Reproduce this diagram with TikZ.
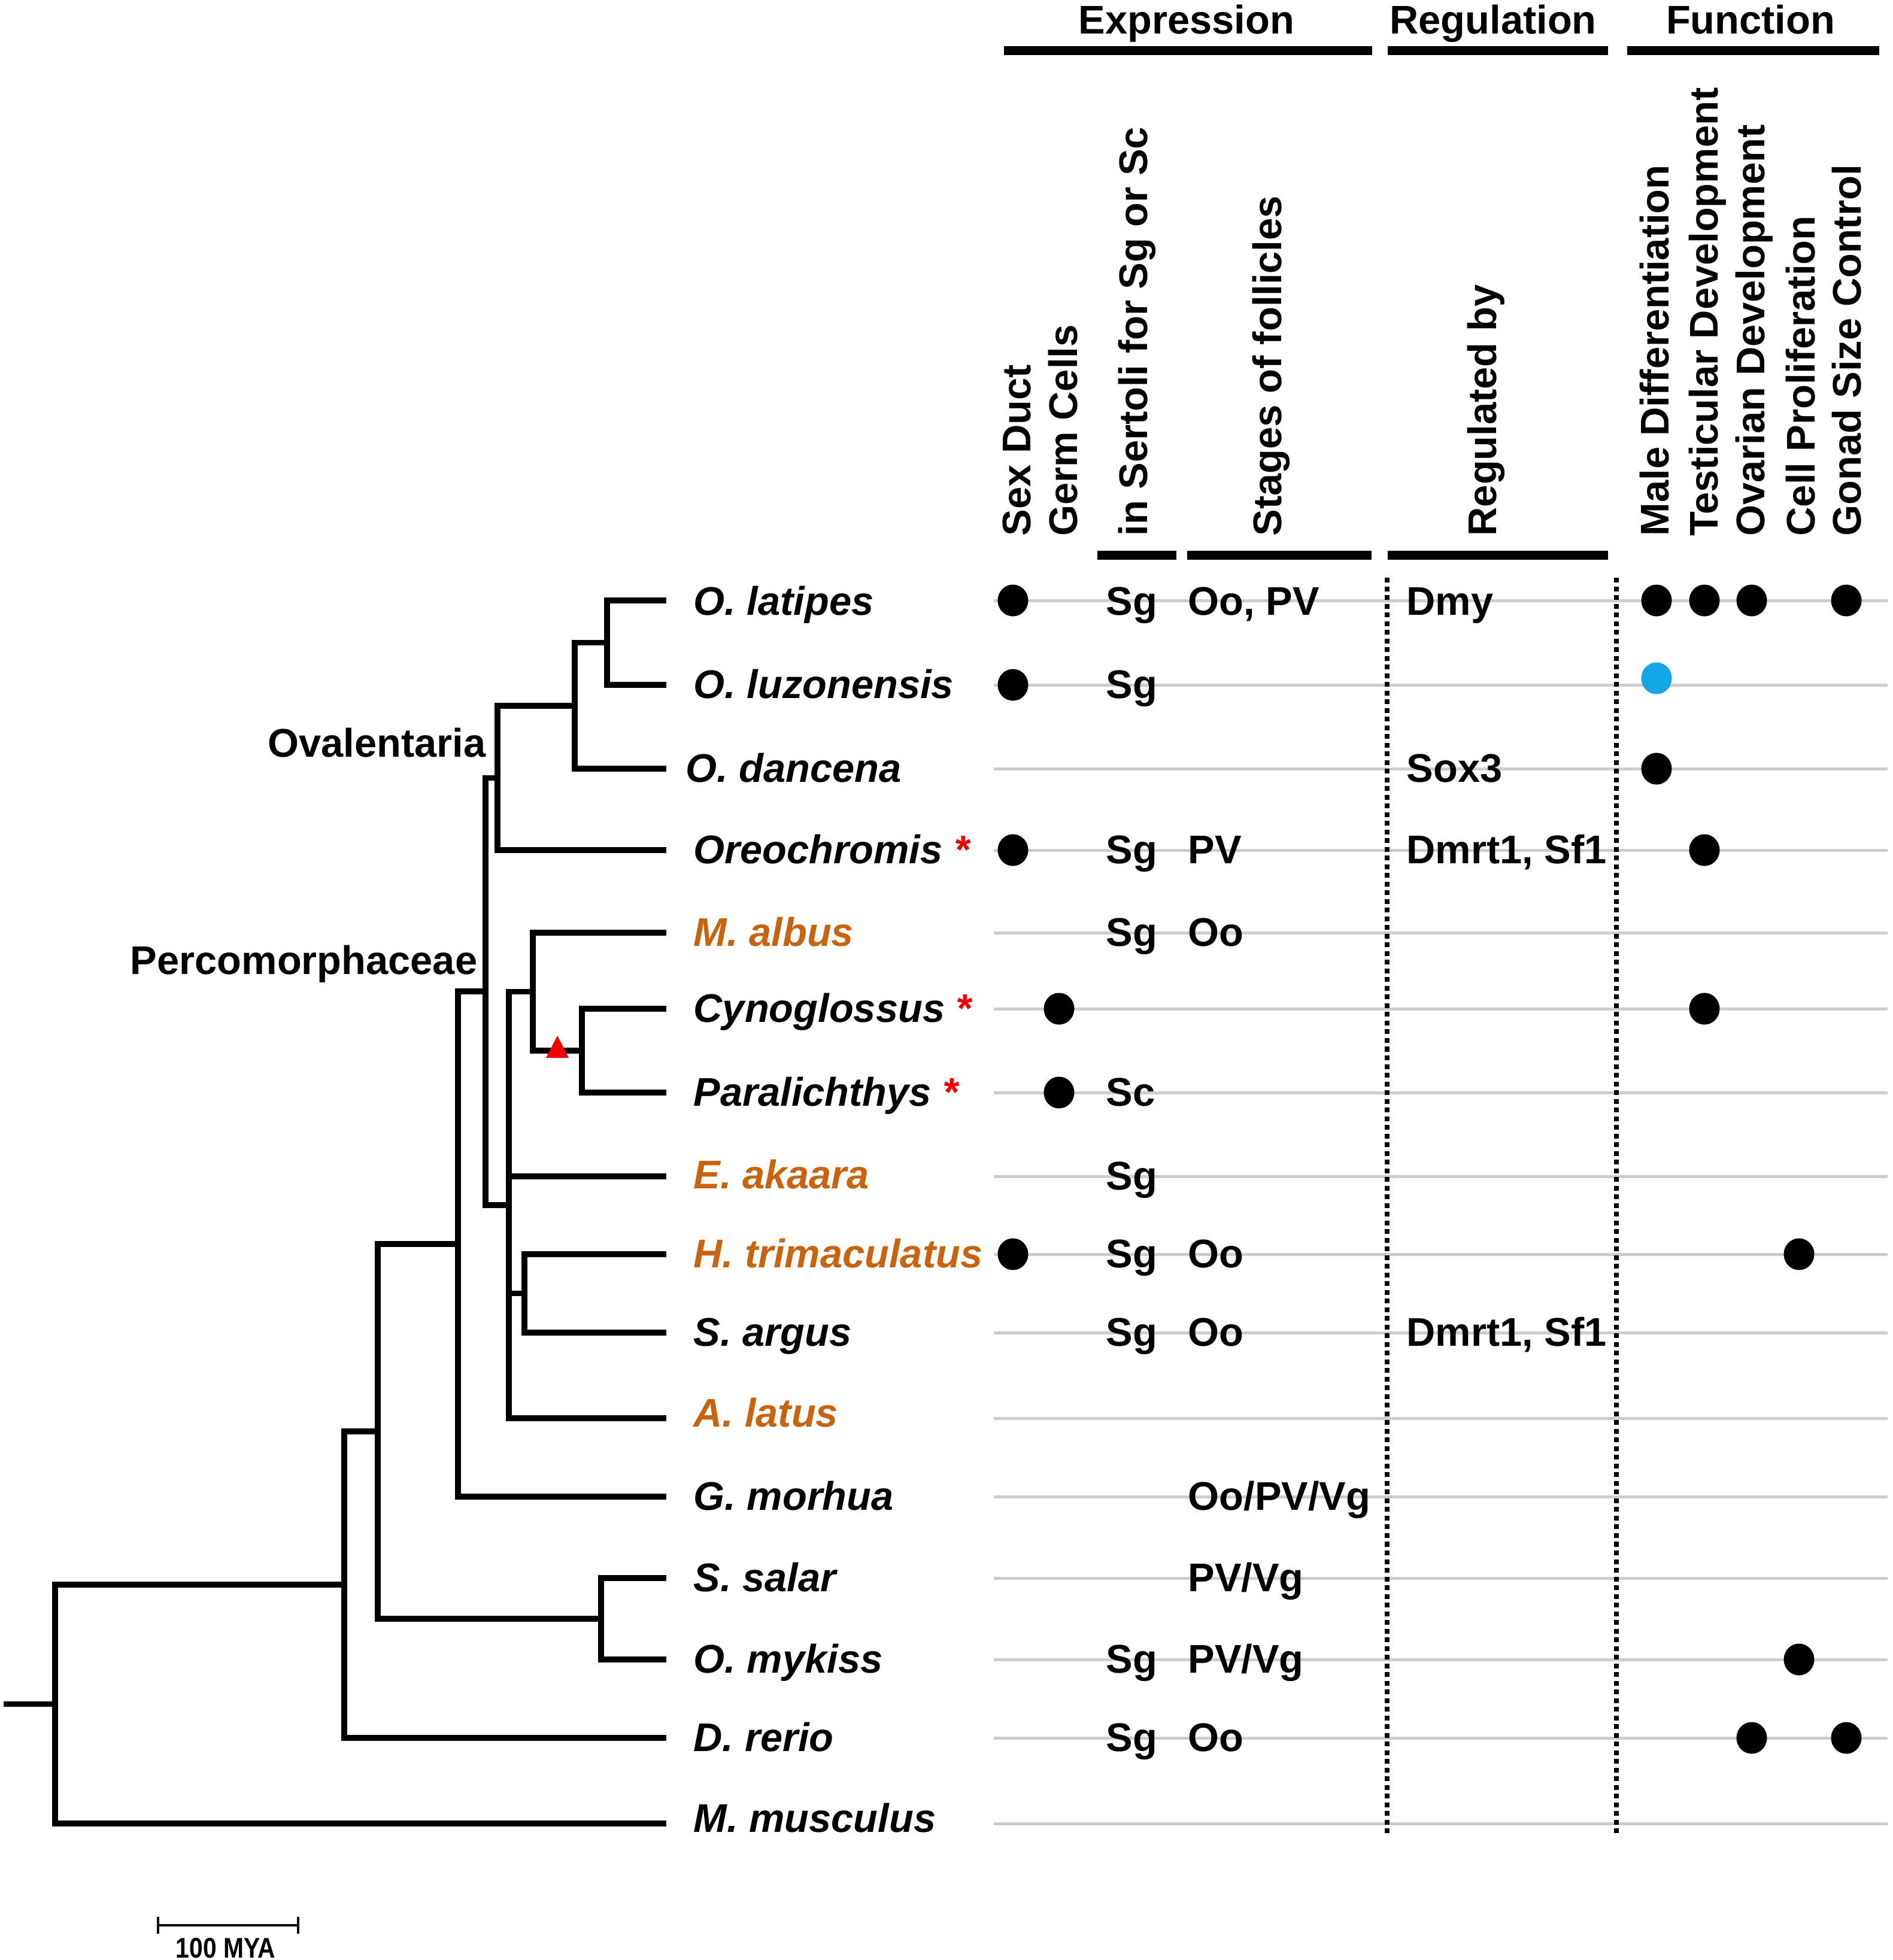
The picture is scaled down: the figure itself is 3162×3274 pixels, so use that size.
\documentclass[tikz,border=0pt]{standalone}
\usepackage{fontspec}
\usetikzlibrary{shapes.geometric}
\setmainfont{Liberation Sans}
\newfontfamily\barfont[FakeStretch=0.86]{Liberation Sans}
\definecolor{spOrange}{RGB}{200,100,15}
\definecolor{dotBlue}{RGB}{20,165,230}
\definecolor{rowGray}{RGB}{205,205,205}
\definecolor{mkRed}{RGB}{240,0,0}
\begin{document}
\begin{tikzpicture}[x=0.01cm,y=-0.01cm,
  branch/.style={line width=0.095cm, line join=miter},
  rowline/.style={line width=0.05cm, rowGray},
  sepline/.style={line width=0.085cm, dash pattern=on 0.08cm off 0.065cm},
  hbar/.style={line width=0.15cm},
  sp/.style={anchor=base west, inner sep=0, font=\fontsize{19}{23}\selectfont\bfseries\itshape},
  dt/.style={anchor=base west, inner sep=0, font=\fontsize{19}{23}\selectfont\bfseries},
  colhead/.style={anchor=base west, rotate=90, inner sep=0, font=\fontsize{19}{23}\selectfont\bfseries},
  grouphead/.style={anchor=base, inner sep=0, font=\fontsize{19}{23}\selectfont\bfseries},
  cladelab/.style={anchor=base east, inner sep=0, font=\fontsize{19}{23}\selectfont\bfseries},
  fdot/.style={ellipse, fill=black, inner sep=0, minimum width=0.51cm, minimum height=0.53cm},
]
\useasboundingbox (0,0) rectangle (3162,3274);

% ---------- row guide lines ----------
\foreach \i/\y in {1/1003,2/1144,3/1284,4/1420,5/1558,6/1685,7/1825,8/1965,9/2095,10/2226,11/2369,12/2500,13/2636,14/2772,15/2903,16/3046}{
  \coordinate (L\i) at (1660,\y);
  \coordinate (R\i) at (3153,\y);
  \draw[rowline] (L\i) -- (R\i);
}

% ---------- dotted separators ----------
\coordinate (s1t) at (2317,965); \coordinate (s1b) at (2317,3062);
\coordinate (s2t) at (2700,965); \coordinate (s2b) at (2700,3062);
\draw[sepline] (s1t) -- (s1b);
\draw[sepline] (s2t) -- (s2b);

% ---------- group headers ----------
\node[grouphead] (hExp) at (1982,56) {Expression};
\node[grouphead] (hReg) at (2494,56) {Regulation};
\node[grouphead] (hFun) at (2924,56) {Function};
\coordinate (b1a) at (1677,84); \coordinate (b1b) at (2292,84);
\coordinate (b2a) at (2318,84); \coordinate (b2b) at (2686,84);
\coordinate (b3a) at (2718,84); \coordinate (b3b) at (3139,84);
\draw[hbar] (b1a) -- (b1b);
\draw[hbar] (b2a) -- (b2b);
\draw[hbar] (b3a) -- (b3b);

% ---------- column headers ----------
\node[colhead] (cSex) at (1721,896) {Sex Duct};
\node[colhead] (cGerm) at (1799,896) {Germ Cells};
\node[colhead] (cSer) at (1916,896) {in Sertoli for Sg or Sc};
\node[colhead] (cSta) at (2140,896) {Stages of follicles};
\node[colhead] (cReg) at (2499,896) {Regulated by};
\node[colhead] (cMal) at (2787,896) {Male Differentiation};
\node[colhead] (cTes) at (2869,896) {Testicular Development};
\node[colhead] (cOva) at (2947,896) {Ovarian Development};
\node[colhead] (cCel) at (3031,896) {Cell Proliferation};
\node[colhead] (cGon) at (3108,896) {Gonad Size Control};
\coordinate (u1a) at (1833,927); \coordinate (u1b) at (1965,927);
\coordinate (u2a) at (1983,927); \coordinate (u2b) at (2291,927);
\coordinate (u3a) at (2318,927); \coordinate (u3b) at (2686,927);
\draw[hbar] (u1a) -- (u1b);
\draw[hbar] (u2a) -- (u2b);
\draw[hbar] (u3a) -- (u3b);

% ---------- tree: tips ----------
\coordinate (tLat) at (1113,1003);
\coordinate (tLuz) at (1113,1144);
\coordinate (tDan) at (1113,1284);
\coordinate (tOre) at (1113,1420);
\coordinate (tAlb) at (1113,1558);
\coordinate (tCyn) at (1113,1685);
\coordinate (tPar) at (1113,1825);
\coordinate (tAka) at (1113,1965);
\coordinate (tTri) at (1113,2095);
\coordinate (tArg) at (1113,2226);
\coordinate (tAla) at (1113,2369);
\coordinate (tMor) at (1113,2500);
\coordinate (tSal) at (1113,2636);
\coordinate (tMyk) at (1113,2772);
\coordinate (tRer) at (1113,2903);
\coordinate (tMus) at (1113,3046);
% ---------- tree: internal nodes ----------
\coordinate (n1) at (1014,1073.5);
\coordinate (n2) at (960,1178.8);
\coordinate (nOv) at (831,1299.4);
\coordinate (nF) at (972,1755);
\coordinate (nD) at (890,1656.5);
\coordinate (nE) at (876,2160.5);
\coordinate (nC) at (850,2012.8);
\coordinate (nB) at (811,1656.1);
\coordinate (nA) at (765,2078);
\coordinate (nH) at (1004,2704);
\coordinate (nG) at (631,2391);
\coordinate (nI) at (575,2647);
\coordinate (nR) at (92,2846.5);
\coordinate (stub) at (6,2846.5);

\draw[branch] (n1) |- (tLat);  \draw[branch] (n1) |- (tLuz);
\draw[branch] (n2) |- (n1);    \draw[branch] (n2) |- (tDan);
\draw[branch] (nOv) |- (n2);   \draw[branch] (nOv) |- (tOre);
\draw[branch] (nF) |- (tCyn);  \draw[branch] (nF) |- (tPar);
\draw[branch] (nD) |- (tAlb);  \draw[branch] (nD) |- (nF);
\draw[branch] (nE) |- (tTri);  \draw[branch] (nE) |- (tArg);
\draw[branch] (nC) |- (nD);    \draw[branch] (nC) |- (tAka);
\draw[branch] (nC) |- (nE);    \draw[branch] (nC) |- (tAla);
\draw[branch] (nB) |- (nOv);   \draw[branch] (nB) |- (nC);
\draw[branch] (nA) |- (nB);    \draw[branch] (nA) |- (tMor);
\draw[branch] (nH) |- (tSal);  \draw[branch] (nH) |- (tMyk);
\draw[branch] (nG) |- (nA);    \draw[branch] (nG) |- (nH);
\draw[branch] (nI) |- (nG);    \draw[branch] (nI) |- (tRer);
\draw[branch] (nR) |- (nI);    \draw[branch] (nR) |- (tMus);
\draw[branch] (stub) -- (nR);

% red triangle on flatfish branch
\coordinate (tri) at (931,1749);
\fill[mkRed, shift={(tri)}] (-19,18) -- (19,18) -- (0,-19) -- cycle;

% clade labels
\node[cladelab] (ovl) at (812,1264) {Ovalentaria};
\node[cladelab] (pcm) at (798,1627) {Percomorphaceae};

% ---------- species ----------
\node[sp] (sLat) at (1158,1027) {O. latipes};
\node[sp] (sLuz) at (1158,1166) {O. luzonensis};
\node[sp] (sDan) at (1145,1306) {O. dancena};
\node[sp] (sOre) at (1158,1442) {Oreochromis {\color{mkRed}*}};
\node[sp, text=spOrange] (sAlb) at (1158,1580) {M. albus};
\node[sp] (sCyn) at (1158,1707) {Cynoglossus {\color{mkRed}*}};
\node[sp] (sPar) at (1158,1847) {Paralichthys {\color{mkRed}*}};
\node[sp, text=spOrange] (sAka) at (1158,1985) {E. akaara};
\node[sp, text=spOrange] (sTri) at (1158,2117) {H. trimaculatus};
\node[sp] (sArg) at (1158,2248) {S. argus};
\node[sp, text=spOrange] (sAla) at (1158,2383) {A. latus};
\node[sp] (sMor) at (1158,2522) {G. morhua};
\node[sp] (sSal) at (1158,2658) {S. salar};
\node[sp] (sMyk) at (1158,2794) {O. mykiss};
\node[sp] (sRer) at (1158,2925) {D. rerio};
\node[sp] (sMus) at (1158,3060) {M. musculus};

% ---------- Sertoli column ----------
\node[dt] (g1) at (1847,1027) {Sg};
\node[dt] (g2) at (1847,1166) {Sg};
\node[dt] (g4) at (1847,1442) {Sg};
\node[dt] (g5) at (1847,1580) {Sg};
\node[dt] (g7) at (1847,1847) {Sc};
\node[dt] (g8) at (1847,1987) {Sg};
\node[dt] (g9) at (1847,2117) {Sg};
\node[dt] (g10) at (1847,2248) {Sg};
\node[dt] (g14) at (1847,2794) {Sg};
\node[dt] (g15) at (1847,2925) {Sg};

% ---------- follicle stages ----------
\node[dt] (f1) at (1984,1027) {Oo, PV};
\node[dt] (f4) at (1984,1442) {PV};
\node[dt] (f5) at (1984,1580) {Oo};
\node[dt] (f9) at (1984,2117) {Oo};
\node[dt] (f10) at (1984,2248) {Oo};
\node[dt] (f12) at (1984,2522) {Oo/PV/Vg};
\node[dt] (f13) at (1984,2658) {PV/Vg};
\node[dt] (f14) at (1984,2794) {PV/Vg};
\node[dt] (f15) at (1984,2925) {Oo};

% ---------- regulated by ----------
\node[dt] (r1) at (2349,1027) {Dmy};
\node[dt] (r3) at (2349,1306) {Sox3};
\node[dt] (r4) at (2349,1442) {Dmrt1, Sf1};
\node[dt] (r10) at (2349,2248) {Dmrt1, Sf1};

% ---------- dots ----------
\node[fdot] (dS1) at (1692,1003) {};
\node[fdot] (dS2) at (1692,1144) {};
\node[fdot] (dS4) at (1692,1420) {};
\node[fdot] (dS9) at (1692,2095) {};
\node[fdot] (dG6) at (1769,1685) {};
\node[fdot] (dG7) at (1769,1825) {};
\node[fdot] (dM1) at (2767,1003) {};
\node[fdot, fill=dotBlue] (dM2) at (2767,1133) {};
\node[fdot] (dM3) at (2767,1284) {};
\node[fdot] (dT1) at (2847,1003) {};
\node[fdot] (dT4) at (2847,1420) {};
\node[fdot] (dT6) at (2847,1685) {};
\node[fdot] (dO1) at (2926,1003) {};
\node[fdot] (dO15) at (2926,2903) {};
\node[fdot] (dC9) at (3005,2095) {};
\node[fdot] (dC14) at (3005,2772) {};
\node[fdot] (dZ1) at (3084,1003) {};
\node[fdot] (dZ15) at (3084,2903) {};

% ---------- scale bar ----------
\coordinate (sbL) at (264,3216);
\coordinate (sbR) at (498,3216);
\draw[line width=0.035cm] (sbL) -- (sbR);
\draw[line width=0.035cm] (264,3202) -- (264,3230);
\draw[line width=0.035cm] (498,3202) -- (498,3230);
\node[anchor=base, inner sep=0, font=\barfont\fontsize{13.5}{15}\selectfont\bfseries] (sbt) at (377,3270) {100 MYA};
\end{tikzpicture}
\end{document}
